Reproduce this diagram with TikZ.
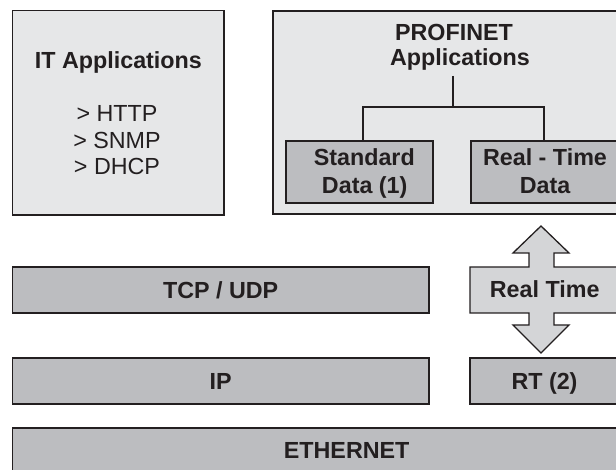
\documentclass[tikz,border=0pt]{standalone}
\usepackage{fontspec}
\setmainfont{Liberation Sans}
\definecolor{edge}{HTML}{231F20}
\definecolor{paleFill}{HTML}{E6E7E8}
\definecolor{layerFill}{HTML}{BCBDC0}
\definecolor{arrowFill}{HTML}{D4D5D7}
\begin{document}
\begin{tikzpicture}[x=1pt,y=-1pt,
  box/.style={draw=edge,line width=1.3pt,inner sep=0pt,outer sep=0pt,rectangle},
  pale/.style={box,fill=paleFill},
  layer/.style={box,fill=layerFill,text height=16.7pt,text depth=0pt,
    text=edge,font=\bfseries\fontsize{23.3}{26}\selectfont},
  caption/.style={anchor=base,inner sep=0pt,text=edge,
    font=\bfseries\fontsize{23.3}{26}\selectfont},
  entry/.style={anchor=base,inner sep=0pt,text=edge,
    font=\fontsize{23.3}{26}\selectfont},
  tree/.style={draw=edge,line width=1.3pt}]
\clip (0,0) rectangle (616,470);

% application boxes
\node[pale,minimum width=211.3pt,minimum height=204.3pt] (itbox) at (118.35,112.85) {};
\node[pale,minimum width=367pt,minimum height=203pt] (pnbox) at (456.5,112.5) {};

\node[caption] (ittitle) at (118.4,68.3) {IT Applications};
\node[entry] (http) at (117,121.7) {> HTTP};
\node[entry] (snmp) at (117,148.3) {> SNMP};
\node[entry] (dhcp) at (117,175) {> DHCP};

\node[caption] (pntitle1) at (454,41) {PROFINET};
\node[caption] (pntitle2) at (460,66) {Applications};

% data channels
\node[layer,minimum width=147pt,minimum height=62pt] (std) at (359.5,172) {};
\node[layer,minimum width=169pt,minimum height=62pt] (rtd) at (555.5,172) {};
\node[caption] (std1) at (364.3,165.7) {Standard};
\node[caption] (std2) at (364.7,193.2) {Data (1)};
\node[caption] (rtd1) at (545,165.7) {Real - Time};
\node[caption] (rtd2) at (545,193.2) {Data};

% branching connector
\coordinate (stem) at (453,76);
\coordinate (fork) at (453,107);
\coordinate (stdtop) at (363,141);
\coordinate (rtdtop) at (544,141);
\draw[tree] (stem) -- (fork);
\draw[tree] (stdtop) |- (fork) -| (rtdtop);

% real-time double arrow
\draw[draw=edge,line width=1.3pt,fill=arrowFill,line join=miter]
  (541,226) -- (569,253) -- (554,253) -- (554,267) -- (640,267) -- (640,313)
  -- (554,313) -- (554,325) -- (569,325) -- (541,353) -- (513,325) -- (529,325)
  -- (529,313) -- (470,313) -- (470,267) -- (529,267) -- (529,253) -- (513,253) -- cycle;
\node[caption] (rtlabel) at (544.7,297.3) {Real Time};

% protocol layers
\node[layer,minimum width=416.7pt,minimum height=46pt] (tcp) at (220.65,290) {TCP / UDP};
\node[layer,minimum width=416.7pt,minimum height=46pt] (ip) at (220.65,381) {IP};
\node[layer,minimum width=149pt,minimum height=46pt] (rt) at (544.5,381) {RT (2)};
\node[layer,minimum width=668.7pt,minimum height=44pt] (eth) at (346.65,450) {ETHERNET};
\end{tikzpicture}
\end{document}
